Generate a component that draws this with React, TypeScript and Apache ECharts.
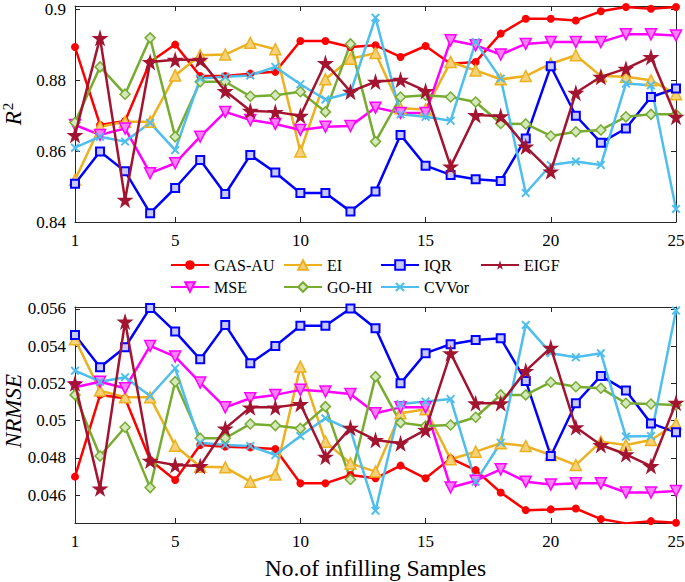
import React, { useEffect, useRef } from "react";
import * as echarts from "echarts";

const samples = [1, 2, 3, 4, 5, 6, 7, 8, 9, 10, 11, 12, 13, 14, 15, 16, 17, 18, 19, 20, 21, 22, 23, 24, 25];
const xTicks = [1, 5, 10, 15, 20, 25];
const r2Ticks = [0.84, 0.86, 0.88, 0.9];
const nrmseTicks = [0.046, 0.048, 0.05, 0.052, 0.054, 0.056];

const seriesNames = ["GAS-AU", "EI", "IQR", "EIGF", "MSE", "GO-HI", "CVVor"];

// R^2 values
const r2GasAu = [0.8894, 0.8674, 0.8685, 0.8852, 0.8901, 0.8812, 0.8812, 0.8819, 0.8824, 0.8911, 0.8911, 0.8894, 0.8899, 0.8866, 0.8897, 0.8847, 0.8852, 0.8932, 0.8974, 0.8974, 0.8969, 0.8995, 0.9007, 0.9002, 0.9007];
const r2Ei = [0.8519, 0.8669, 0.8683, 0.8683, 0.8814, 0.8871, 0.8873, 0.8906, 0.8888, 0.8599, 0.8803, 0.8861, 0.8877, 0.8721, 0.8718, 0.8852, 0.8828, 0.8803, 0.8812, 0.8847, 0.8871, 0.8812, 0.881, 0.88, 0.8761];
const r2Iqr = [0.8508, 0.8599, 0.8543, 0.8425, 0.8496, 0.8575, 0.8479, 0.8589, 0.854, 0.8482, 0.8482, 0.843, 0.8486, 0.8646, 0.8559, 0.8533, 0.8521, 0.8516, 0.8636, 0.884, 0.87, 0.8624, 0.8664, 0.8753, 0.8777];
const r2Eigf = [0.8646, 0.892, 0.8463, 0.8852, 0.8858, 0.8858, 0.877, 0.8714, 0.8711, 0.87, 0.8849, 0.8768, 0.8796, 0.8802, 0.877, 0.8557, 0.8702, 0.8699, 0.8613, 0.8543, 0.8765, 0.881, 0.8833, 0.8866, 0.8697];
const r2Mse = [0.8674, 0.8646, 0.8664, 0.8538, 0.8566, 0.8641, 0.8711, 0.8688, 0.8677, 0.866, 0.8669, 0.8671, 0.8723, 0.8708, 0.8708, 0.8913, 0.8899, 0.8873, 0.8903, 0.8908, 0.8908, 0.8908, 0.893, 0.893, 0.8927];
const r2GoHi = [0.8681, 0.8838, 0.8761, 0.892, 0.8641, 0.8796, 0.8796, 0.8755, 0.8758, 0.8768, 0.8711, 0.8903, 0.8627, 0.8753, 0.8758, 0.8753, 0.8739, 0.8678, 0.8677, 0.8643, 0.8655, 0.866, 0.8697, 0.8704, 0.8704];
const r2Cvvor = [0.861, 0.8641, 0.8627, 0.868, 0.8603, 0.8805, 0.881, 0.8814, 0.8838, 0.8789, 0.8746, 0.8765, 0.8977, 0.8704, 0.8697, 0.8686, 0.8908, 0.8805, 0.8482, 0.8561, 0.8571, 0.8561, 0.8791, 0.8786, 0.8437];

// NRMSE values
const nrGasAu = [0.04699, 0.05138, 0.0512, 0.04788, 0.04681, 0.04869, 0.0486, 0.04856, 0.04847, 0.04663, 0.04663, 0.04708, 0.0469, 0.04758, 0.0469, 0.04797, 0.04734, 0.04614, 0.04519, 0.04523, 0.04528, 0.04471, 0.04448, 0.0446, 0.04451];
const nrEi = [0.05437, 0.05161, 0.05125, 0.05125, 0.04865, 0.04752, 0.04749, 0.04672, 0.04711, 0.0529, 0.04887, 0.0477, 0.04726, 0.05039, 0.05061, 0.04792, 0.04833, 0.04878, 0.04863, 0.04815, 0.04761, 0.04887, 0.04869, 0.04896, 0.04982];
const nrIqr = [0.0546, 0.05286, 0.05394, 0.05605, 0.05478, 0.05329, 0.05514, 0.05308, 0.05401, 0.05509, 0.05509, 0.05602, 0.05496, 0.052, 0.05362, 0.0541, 0.05433, 0.05442, 0.05213, 0.0481, 0.05093, 0.0524, 0.05161, 0.04985, 0.04937];
const nrEigf = [0.052, 0.04636, 0.05532, 0.04785, 0.04761, 0.04756, 0.04958, 0.05071, 0.05071, 0.05089, 0.04806, 0.04962, 0.04896, 0.04878, 0.0495, 0.05362, 0.05093, 0.05093, 0.05267, 0.05392, 0.04964, 0.04869, 0.04819, 0.04756, 0.05096];
const nrMse = [0.05179, 0.05209, 0.05174, 0.05401, 0.05344, 0.05204, 0.05071, 0.0512, 0.05138, 0.05165, 0.05156, 0.05143, 0.05039, 0.05071, 0.05071, 0.04641, 0.04677, 0.04738, 0.04672, 0.04657, 0.04663, 0.04663, 0.04614, 0.04614, 0.04622];
const nrGoHi = [0.05138, 0.0481, 0.04964, 0.0464, 0.05209, 0.04905, 0.04905, 0.04982, 0.04973, 0.04958, 0.05075, 0.04684, 0.05236, 0.04989, 0.04971, 0.04976, 0.05018, 0.05138, 0.05138, 0.05206, 0.05182, 0.05174, 0.05093, 0.05089, 0.05084];
const nrCvvor = [0.05268, 0.05209, 0.05233, 0.05132, 0.05281, 0.04881, 0.04869, 0.04863, 0.04815, 0.04917, 0.05012, 0.0495, 0.04516, 0.05089, 0.05102, 0.05116, 0.04672, 0.04881, 0.05514, 0.05362, 0.0534, 0.05362, 0.04914, 0.04917, 0.05591];

const r2Data = [r2GasAu, r2Ei, r2Iqr, r2Eigf, r2Mse, r2GoHi, r2Cvvor];
const nrData = [nrGasAu, nrEi, nrIqr, nrEigf, nrMse, nrGoHi, nrCvvor];

const colors = ["#FF0000", "#EDB120", "#0000FF", "#A2142F", "#FF00FF", "#77AC30", "#4DBEEE"];
const fills = ["#FF0000", "#F5D27A", "#C8C8FF", "#A2142F", "#FF80FF", "#D6E8BE", "#4DBEEE"];

const STAR = "path://M50,0 L61,35 L98,35 L68,57 L79,91 L50,70 L21,91 L32,57 L2,35 L39,35 Z";
const XMARK = "path://M0,1.5 L1.5,0 L5,3.5 L8.5,0 L10,1.5 L6.5,5 L10,8.5 L8.5,10 L5,6.5 L1.5,10 L0,8.5 L3.5,5 Z";
const symbols = ["circle", "triangle", "rect", STAR, "triangle", "diamond", XMARK];
const symbolSizes = [8, 11, 8, 17, 11, 10, 9];
const symbolRotates = [0, 0, 0, 0, 180, 0, 0];
const borderWidths = [0, 1.5, 2, 0, 1.5, 1.5, 0];

const FONT = "Times New Roman";
const AX = "#262626";

const legendCols = [170, 283, 380, 480, 170, 283, 380];
const legendRows = [257, 257, 257, 257, 279, 279, 279];

function makeAxes(gridIndex: number, yMin: number, yMax: number, yTicks: number[], yName: any) {
  const common = {
    gridIndex,
    type: "value" as const,
    splitLine: { show: false },
    nameMoveOverlap: false,
    axisLine: { show: true, onZero: false, lineStyle: { color: AX, width: 1 } },
  };
  const x = [
    {
      ...common,
      position: "bottom",
      min: 1,
      max: 25,
      axisTick: { show: true, inside: true, length: 5, customValues: xTicks, lineStyle: { color: AX } },
      axisLabel: { show: true, customValues: xTicks, margin: 10, fontFamily: FONT, fontSize: 17, color: "#000" },
      ...(gridIndex === 1
        ? {
            name: "No.of infilling Samples",
            nameLocation: "middle",
            nameGap: 33,
            nameTextStyle: { fontFamily: FONT, fontSize: 23.5, color: "#000" },
          }
        : {}),
    },
    {
      ...common,
      position: "top",
      min: 1,
      max: 25,
      axisTick: { show: true, inside: true, length: 5, customValues: xTicks, lineStyle: { color: AX } },
      axisLabel: { show: false },
    },
  ];
  const y = [
    {
      ...common,
      position: "left",
      min: yMin,
      max: yMax,
      axisTick: { show: true, inside: true, length: 5, customValues: yTicks, lineStyle: { color: AX } },
      axisLabel: { show: true, customValues: yTicks, margin: 9, fontFamily: FONT, fontSize: 17, color: "#000" },
      name: yName.text,
      nameLocation: "middle",
      nameRotate: 90,
      nameGap: yName.gap,
      nameTextStyle: yName.style,
    },
    {
      ...common,
      position: "right",
      min: yMin,
      max: yMax,
      axisTick: { show: true, inside: true, length: 5, customValues: yTicks, lineStyle: { color: AX } },
      axisLabel: { show: false },
    },
  ];
  return { x, y };
}

function makeSeries(gridIdx: number, data: number[][]) {
  return seriesNames.map((name, i) => ({
    name,
    type: "line",
    xAxisIndex: gridIdx * 2,
    yAxisIndex: gridIdx * 2,
    data: samples.map((s, k) => [s, data[i][k]]),
    symbol: symbols[i],
    symbolSize: symbolSizes[i],
    symbolRotate: symbolRotates[i],
    showAllSymbol: true,
    lineStyle: { color: colors[i], width: 2.5 },
    itemStyle: { color: fills[i], borderColor: colors[i], borderWidth: borderWidths[i], opacity: 1 },
    emphasis: { disabled: true },
    z: 2 + (i === 3 ? 1 : 0),
  }));
}

export default function App() {
  const ref = useRef<HTMLDivElement>(null);
  useEffect(() => {
    if (!ref.current) return;
    const chart = echarts.init(ref.current, undefined, { renderer: "svg" });
    const top = makeAxes(0, 0.84, 0.901, r2Ticks, {
      text: "{i|R}{s|2}",
      gap: 48,
      style: {
        rich: {
          i: { fontFamily: FONT, fontStyle: "italic", fontSize: 23, color: "#000" },
          s: { fontFamily: FONT, fontSize: 15, color: "#000", padding: [0, 0, 12, 1] },
        },
      },
    });
    const bot = makeAxes(1, 0.0445, 0.0561, nrmseTicks, {
      text: "NRMSE",
      gap: 50,
      style: { fontFamily: FONT, fontStyle: "italic", fontSize: 23, color: "#000", padding: [0, 0, 0, 8] },
    });
    const legends = seriesNames.map((name, i) => ({
      data: [name],
      left: legendCols[i],
      top: legendRows[i],
      padding: 0,
      itemWidth: 38,
      itemHeight: 12,
      itemGap: 0,
      selectedMode: false,
      textStyle: { fontFamily: FONT, fontSize: 16, color: "#000", lineHeight: 16 },
    }));
    chart.setOption({
      animation: false,
      backgroundColor: "#fff",
      textStyle: { fontFamily: FONT },
      grid: [
        { left: 75, right: 9, top: 6, height: 216, containLabel: false, outerBoundsMode: "none" },
        { left: 75, right: 9, top: 307, height: 216, containLabel: false, outerBoundsMode: "none" },
      ],
      xAxis: [...top.x, ...bot.x],
      yAxis: [...top.y, ...bot.y],
      legend: legends,
      series: [...makeSeries(0, r2Data), ...makeSeries(1, nrData)],
    });
    return () => chart.dispose();
  }, []);
  return <div ref={ref} style={{ width: 685, height: 582, position: "absolute", left: 0, top: 0 }} />;
}
